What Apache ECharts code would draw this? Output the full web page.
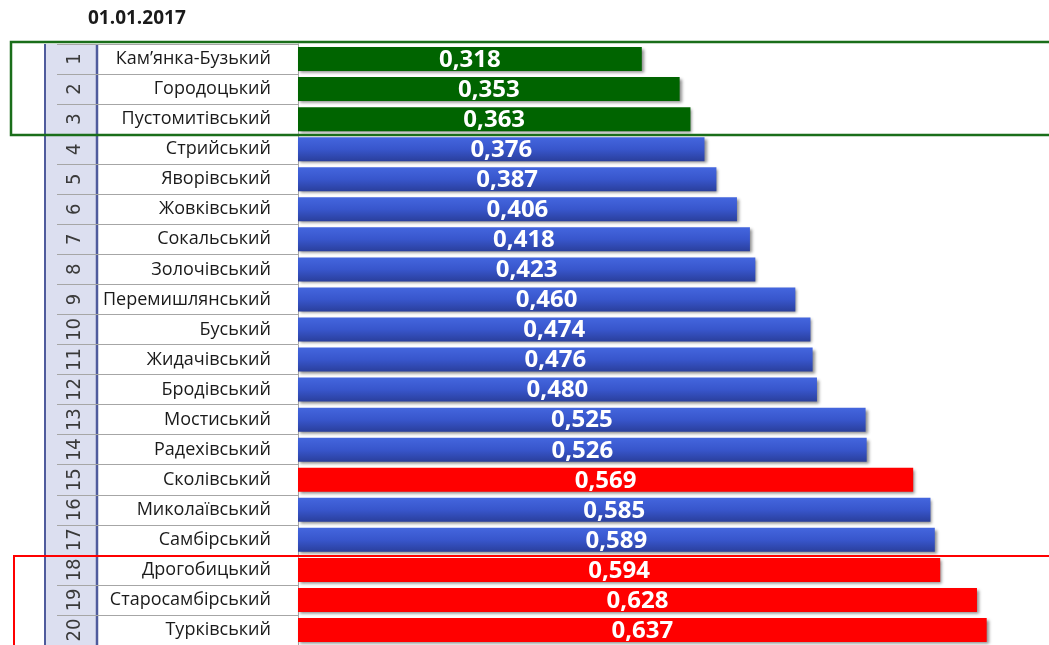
<!DOCTYPE html>
<html>
<head>
<meta charset="utf-8">
<script src="https://cdn.jsdelivr.net/npm/echarts@6/dist/echarts.min.js"></script>
<style>html,body{margin:0;padding:0;background:#fff}#c{width:1049px;height:645px}</style>
</head>
<body>
<div id="c"></div>
<script>
const title = '01.01.2017';
const ranks = ['1','2','3','4','5','6','7','8','9','10','11','12','13','14','15','16','17','18','19','20'];
const districts = ['Кам’янка-Бузький','Городоцький','Пустомитівський','Стрийський','Яворівський','Жовківський','Сокальський','Золочівський','Перемишлянський','Буський','Жидачівський','Бродівський','Мостиський','Радехівський','Сколівський','Миколаївський','Самбірський','Дрогобицький','Старосамбірський','Турківський'];
const values = [0.318,0.353,0.363,0.376,0.387,0.406,0.418,0.423,0.460,0.474,0.476,0.480,0.525,0.526,0.569,0.585,0.589,0.594,0.628,0.637];
const bestRanks = [1,2,3];
const worstRanks = [15,18,19,20];

const GREEN = '#006400';
const RED = '#ff0000';
const BLUE = {type:'linear',x:0,y:0,x2:0,y2:1,colorStops:[{offset:0,color:'#4466de'},{offset:0.5,color:'#3856cc'},{offset:1,color:'#2a3f9c'}]};

function colorFor(i){
  const r = Number(ranks[i]);
  if (bestRanks.includes(r)) return GREEN;
  if (worstRanks.includes(r)) return RED;
  return BLUE;
}

const chart = echarts.init(document.getElementById('c'), null, {renderer:'canvas'});
chart.setOption({
  animation:false,
  backgroundColor:'#fff',
  grid:{left:298, top:44, width:746, height:602, containLabel:false},
  xAxis:{type:'value', min:0, max:0.69, show:false},
  yAxis:[
    {type:'category', data:districts, inverse:true, position:'left',
     axisLine:{show:true, lineStyle:{color:'#a6a6a6', width:1}},
     axisTick:{show:true, length:241, lineStyle:{color:'#a6a6a6', width:1}},
     axisLabel:{color:'#1a1a1a', fontSize:18, fontFamily:'Open Sans', margin:27},
     splitLine:{show:false}},
    {type:'category', data:ranks, inverse:true, position:'left', offset:201,
     axisLine:{show:false}, axisTick:{show:false},
     axisLabel:{rotate:90, color:'#3a3a3a', fontSize:20, fontFamily:"'Liberation Sans Narrow', 'DejaVu Sans Condensed', sans-serif", margin:12},
     splitLine:{show:false}}
  ],
  graphic:[
    {type:'text', left:88, top:9, style:{text:title, font:'bold 19px "Open Sans"', fill:'#1a1a1a'}},
    {type:'rect', z:-10, shape:{x:46, y:44, width:51, height:610}, style:{fill:'#dcdff0'}},
    {type:'line', shape:{x1:45, y1:44, x2:45, y2:650}, style:{stroke:'#4f5b9c', lineWidth:2}},
    {type:'line', shape:{x1:97, y1:44, x2:97, y2:650}, style:{stroke:'#4f5b9c', lineWidth:2.5}},
    {type:'rect', z:100, shape:{x:11, y:42, width:1060, height:93}, style:{fill:'none', stroke:'#1a6e1a', lineWidth:2.5}},
    {type:'rect', z:100, shape:{x:14, y:556, width:1060, height:110}, style:{fill:'none', stroke:'#ff0000', lineWidth:2}}
  ],
  series:[{
    type:'bar',
    data:values.map((v,i)=>({value:v, itemStyle:{color:colorFor(i)}})),
    barWidth:24,
    yAxisIndex:0,
    itemStyle:{shadowColor:'rgba(0,0,0,0.45)', shadowBlur:3, shadowOffsetX:2, shadowOffsetY:2},
    label:{show:true, position:'inside', offset:[0,1], color:'#fff', fontWeight:'bold', fontSize:24, fontFamily:'Open Sans',
      formatter:p=>p.value.toFixed(3).replace('.', ',')}
  }]
});
</script>
</body>
</html>
